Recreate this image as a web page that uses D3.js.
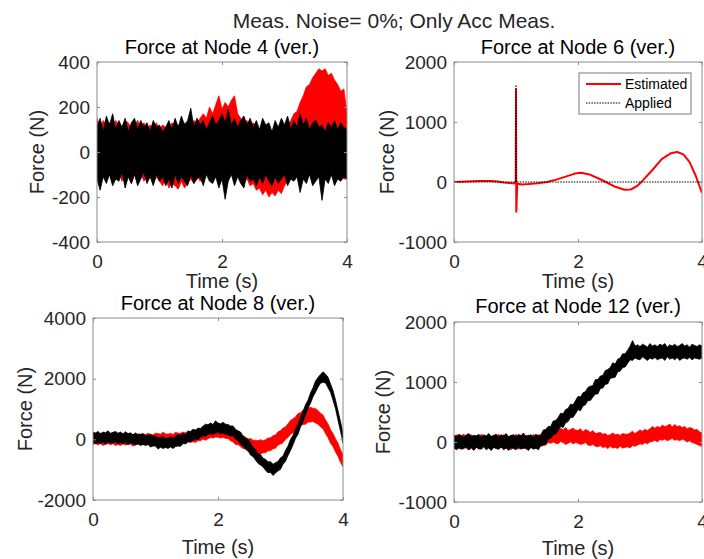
<!DOCTYPE html>
<html>
<head>
<meta charset="utf-8">
<script src="https://cdn.jsdelivr.net/npm/d3@7"></script>
<style>
  body { margin: 0; background: #fff; }
  svg { display: block; font-family: "Liberation Sans", Arial, sans-serif; }
</style>
</head>
<body>
<svg id="chart" width="704" height="559"></svg>
<script>
// chart data
const mainTitle = "Meas. Noise= 0%; Only Acc Meas.";
const legendLabels = ["Estimated", "Applied"];
const timeTicks = [0, 2, 4];
const timeDomain = [0, 4];

const node4Ticks = [-400, -200, 0, 200, 400];
const node6Ticks = [-1000, 0, 1000, 2000];
const node8Ticks = [-2000, 0, 2000, 4000];
const node12Ticks = [-1000, 0, 1000, 2000];

// noisy records are kept as upper / lower edges of the band,
// sampled evenly over 0..4 s

// node 4: 81 samples (every 0.05 s)
const node4EstimatedUpper = [
  150, 110, 140, 120, 130, 100, 140, 120, 110, 140,
  130, 100, 120, 140, 110, 130, 100, 120, 110, 130,
  100, 120, 110, 100, 130, 110, 120, 100, 130, 110,
  120, 140, 130, 150, 170, 150, 200, 170, 210, 250,
  190, 220, 200, 230, 250, 170, 150, 130, 140, 120,
  130, 110, 90, 100, 80, 90, 70, 90, 80, 100,
  110, 120, 140, 170, 180, 220, 250, 290, 300, 330,
  350, 370, 360, 370, 340, 350, 320, 300, 270, 280,
  170
];
const node4EstimatedLower = [
  -100, -130, -90, -120, -100, -140, -110, -90, -130, -100,
  -110, -140, -100, -120, -90, -130, -110, -100, -140, -110,
  -130, -150, -120, -160, -140, -150, -165, -130, -160, -140,
  -120, -140, -100, -130, -110, -90, -120, -80, -100, -70,
  -90, -60, -100, -70, -90, -110, -100, -130, -120, -150,
  -140, -170, -160, -190, -170, -200, -180, -195, -170, -185,
  -150, -130, -110, -90, -80, -60, -50, -40, -30, -20,
  -20, -10, -20, -30, -40, -50, -60, -80, -100, -120,
  -120
];
const node4AppliedUpper = [
  110, 150, 90, 160, 120, 170, 100, 140, 110, 150,
  90, 130, 150, 100, 140, 110, 130, 90, 140, 110,
  120, 90, 110, 140, 100, 150, 110, 160, 120, 140,
  195, 110, 150, 120, 140, 100, 130, 160, 120, 140,
  170, 130, 190, 120, 150, 110, 140, 160, 120, 150,
  110, 140, 100, 150, 120, 130, 90, 140, 110, 150,
  120, 160, 100, 140, 110, 170, 120, 150, 100, 130,
  140, 110, 120, 90, 130, 110, 140, 100, 130, 110,
  100
];
const node4AppliedLower = [
  -120, -170, -110, -140, -100, -150, -120, -130, -90, -160,
  -110, -140, -100, -150, -120, -90, -140, -110, -150, -100,
  -130, -110, -150, -120, -160, -100, -140, -110, -130, -150,
  -100, -140, -120, -110, -150, -100, -130, -140, -110, -160,
  -120, -210, -130, -100, -150, -110, -140, -160, -100, -130,
  -120, -150, -110, -140, -100, -130, -150, -110, -140, -120,
  -100, -150, -120, -130, -110, -180, -120, -140, -100, -150,
  -130, -110, -215, -120, -140, -100, -150, -120, -130, -110,
  -120
];

// node 6: smooth estimate with the impulse at 1 s
const node6Time = [0, 0.2, 0.4, 0.6, 0.7, 0.8, 0.95, 0.995, 1.0, 1.005, 1.02, 1.1, 1.2, 1.35, 1.5, 1.65,
  1.8, 1.95, 2.05, 2.2, 2.35, 2.45, 2.6, 2.75, 2.85, 2.95, 3.05, 3.2, 3.35, 3.5, 3.6, 3.7, 3.8, 3.9, 4.0];
const node6Estimated = [0, 10, 15, 15, 10, -10, -20, -20, 1550, -495, -30, -40, -35, -20, 0, 40,
  90, 140, 155, 120, 50, 0, -80, -130, -125, -70, 30, 200, 380, 480, 500, 460, 330, 100, -180];
const node6AppliedTime = [0, 0.995, 1.0, 1.005, 4.0];
const node6Applied = [0, 0, 1617, 0, 0];

// node 8: 101 samples (every 0.04 s)
const node8EstimatedUpper = [
  160, 200, 160, 200, 140, 200, 170, 150, 200, 160,
  130, 180, 150, 180, 150, 210, 150, 120, 180, 160,
  180, 160, 200, 160, 150, 200, 190, 170, 230, 180,
  170, 200, 160, 230, 200, 200, 240, 210, 280, 250,
  280, 260, 340, 310, 360, 360, 430, 410, 450, 490,
  460, 440, 470, 420, 410, 330, 310, 240, 220, 150,
  130, 70, 10, 30, -30, -30, -50, -10, -50, -10,
  40, 50, 120, 140, 250, 280, 370, 410, 510, 620,
  680, 740, 850, 880, 960, 1020, 1020, 1060, 1020, 1010,
  950, 860, 800, 640, 510, 320, 190, 20, -130, -340,
  -520
];
const node8EstimatedLower = [
  -170, -140, -180, -140, -200, -170, -140, -180, -140, -200,
  -170, -200, -150, -190, -160, -160, -220, -190, -150, -180,
  -150, -190, -160, -140, -180, -160, -130, -190, -140, -120,
  -160, -140, -180, -120, -160, -130, -90, -140, -90, -100,
  -80, -100, -40, -50, 10, -30, 20, 60, 40, 80,
  70, 40, 70, 30, 30, -50, -80, -170, -170, -240,
  -300, -320, -400, -400, -440, -480, -460, -480, -440, -440,
  -380, -380, -310, -290, -190, -150, -110, 0, 60, 170,
  210, 310, 350, 450, 490, 500, 570, 570, 590, 540,
  500, 410, 350, 190, 60, -130, -240, -420, -560, -760,
  -900
];
const node8AppliedUpper = [
  230, 210, 260, 180, 240, 220, 280, 200, 230, 260,
  200, 240, 180, 250, 190, 210, 150, 210, 150, 170,
  180, 120, 130, 170, 100, 110, 40, 70, 90, 30,
  40, 80, 40, 100, 160, 130, 180, 170, 260, 260,
  330, 310, 370, 360, 430, 500, 480, 540, 490, 610,
  540, 510, 560, 500, 490, 440, 440, 330, 280, 240,
  100, 40, 0, -120, -260, -340, -470, -500, -620, -660,
  -740, -740, -820, -770, -730, -610, -550, -360, -220, 0,
  130, 340, 500, 750, 920, 1140, 1290, 1530, 1700, 1920,
  2040, 2140, 2230, 2150, 2050, 1830, 1610, 1300, 940, 590,
  190
];
const node8AppliedLower = [
  -100, -140, -110, -140, -90, -150, -100, -120, -130, -80,
  -150, -110, -140, -110, -180, -110, -150, -180, -150, -200,
  -170, -200, -170, -250, -220, -220, -320, -260, -300, -270,
  -300, -250, -300, -240, -220, -230, -140, -150, -70, -80,
  -40, 10, -10, 60, 120, 100, 170, 180, 160, 200,
  230, 180, 210, 160, 150, 110, 110, 10, -40, -160,
  -210, -320, -370, -520, -570, -680, -790, -850, -910, -1020,
  -1100, -1090, -1190, -1110, -1040, -990, -820, -720, -530, -370,
  -180, 30, 170, 410, 580, 800, 1020, 1190, 1400, 1550,
  1720, 1850, 1880, 1860, 1700, 1550, 1290, 1010, 630, 270,
  -120
];

// node 12: 101 samples (every 0.04 s)
const node12EstimatedUpper = [
  90, 120, 80, 110, 130, 70, 100, 120, 90, 110,
  80, 130, 100, 70, 120, 90, 110, 80, 130, 100,
  120, 90, 70, 110, 100, 130, 80, 120, 90, 110,
  100, 70, 130, 90, 120, 120, 180, 170, 220, 240,
  210, 220, 190, 230, 200, 240, 190, 210, 230, 200,
  190, 220, 170, 210, 190, 160, 190, 140, 150, 160,
  130, 140, 110, 120, 150, 120, 130, 110, 140, 130,
  130, 150, 180, 140, 170, 200, 180, 210, 190, 220,
  260, 230, 260, 240, 280, 260, 270, 300, 250, 290,
  260, 270, 240, 260, 220, 240, 230, 200, 210, 170,
  150
];
const node12EstimatedLower = [
  -100, -80, -120, -90, -70, -110, -130, -90, -100, -80,
  -120, -100, -70, -110, -90, -130, -80, -100, -120, -90,
  -110, -70, -100, -130, -90, -80, -120, -100, -110, -90,
  -130, -80, -100, -110, -90, -70, -60, -50, -10, -20,
  0, -20, -30, 10, -10, -40, -20, 0, -30, -10,
  -20, -40, -30, -10, -50, -60, -40, -70, -80, -60,
  -90, -80, -110, -70, -100, -90, -110, -70, -100, -90,
  -80, -100, -60, -70, -50, -30, -40, -10, -30, 0,
  10, 30, 0, 40, 30, 50, 20, 40, 60, 30,
  40, 20, 50, 30, 0, 20, -10, -20, -40, -60,
  -70
];
const node12AppliedUpper = [
  110, 90, 130, 100, 80, 120, 140, 90, 110, 100,
  130, 80, 120, 100, 140, 90, 110, 130, 80, 120,
  100, 140, 90, 110, 120, 80, 130, 100, 150, 90,
  110, 120, 80, 130, 100, 110, 200, 210, 260, 260,
  350, 360, 410, 480, 470, 540, 560, 630, 620, 690,
  760, 750, 820, 840, 910, 930, 940, 1040, 1040, 1100,
  1110, 1190, 1210, 1240, 1320, 1300, 1380, 1400, 1470, 1470,
  1530, 1600, 1690, 1600, 1620, 1590, 1630, 1610, 1580, 1640,
  1600, 1620, 1590, 1630, 1610, 1640, 1580, 1620, 1600, 1630,
  1590, 1610, 1640, 1600, 1620, 1580, 1630, 1610, 1590, 1620,
  1600
];
const node12AppliedLower = [
  -100, -130, -90, -120, -110, -80, -130, -100, -140, -90,
  -110, -120, -80, -130, -100, -140, -90, -110, -120, -80,
  -130, -100, -140, -90, -110, -130, -80, -120, -100, -110,
  -140, -90, -120, -100, -130, -60, -50, -40, 50, 60,
  120, 130, 190, 260, 240, 320, 340, 410, 410, 470,
  540, 520, 600, 620, 690, 690, 750, 800, 800, 890,
  900, 960, 970, 1060, 1070, 1080, 1170, 1180, 1240, 1250,
  1310, 1370, 1360, 1400, 1380, 1370, 1420, 1390, 1360, 1400,
  1380, 1410, 1370, 1390, 1400, 1360, 1420, 1380, 1400, 1370,
  1410, 1360, 1390, 1400, 1380, 1410, 1370, 1400, 1390, 1380,
  1400
];

// band samples are equally spaced over the time axis
const band = (upper, lower) =>
  upper.map((v, i) => ({
    t: (timeDomain[1] * i) / (upper.length - 1),
    hi: v,
    lo: lower[i],
  }));

const ink = "#262626";
const boxColor = "#8c8c8c";

const panels = [
  { title: "Force at Node 4 (ver.)", left: 97, right: 347, top: 62, bottom: 242,
    yDomain: [-400, 400], yTicks: node4Ticks,
    est: band(node4EstimatedUpper, node4EstimatedLower),
    app: band(node4AppliedUpper, node4AppliedLower),
    titleY: 54, xLabelY: 288, yLabelX: 44 },
  { title: "Force at Node 6 (ver.)", left: 454, right: 702, top: 62, bottom: 242,
    yDomain: [-1000, 2000], yTicks: node6Ticks,
    estLine: d3.zip(node6Time, node6Estimated),
    appLine: d3.zip(node6AppliedTime, node6Applied),
    titleY: 54, xLabelY: 288, yLabelX: 394, legend: true },
  { title: "Force at Node 8 (ver.)", left: 93, right: 343, top: 318, bottom: 500,
    yDomain: [-2000, 4000], yTicks: node8Ticks,
    est: band(node8EstimatedUpper, node8EstimatedLower),
    app: band(node8AppliedUpper, node8AppliedLower),
    titleY: 310, xLabelY: 554, yLabelX: 32 },
  { title: "Force at Node 12 (ver.)", left: 454, right: 702, top: 322, bottom: 502,
    yDomain: [-1000, 2000], yTicks: node12Ticks,
    est: band(node12EstimatedUpper, node12EstimatedLower),
    app: band(node12AppliedUpper, node12AppliedLower),
    titleY: 313, xLabelY: 555, yLabelX: 390 },
];

const svg = d3.select("#chart");

svg.append("text")
  .attr("x", 394)
  .attr("y", 28)
  .attr("text-anchor", "middle")
  .attr("font-size", 21)
  .attr("fill", ink)
  .text(mainTitle);

const drawPanel = (p, idx) => {
  const x = d3.scaleLinear().domain(timeDomain).range([p.left, p.right]);
  const y = d3.scaleLinear().domain(p.yDomain).range([p.bottom, p.top]);
  const line = d3.line().x((d) => x(d[0])).y((d) => y(d[1]));
  const area = d3.area().x((d) => x(d.t)).y0((d) => y(d.lo)).y1((d) => y(d.hi));

  svg.append("clipPath")
    .attr("id", `clip${idx}`)
    .append("rect")
    .attr("x", p.left)
    .attr("y", p.top)
    .attr("width", p.right - p.left)
    .attr("height", p.bottom - p.top);

  const plot = svg.append("g").attr("clip-path", `url(#clip${idx})`);

  // estimated first, applied on top
  if (p.est) {
    [[p.est, "#ff0000"], [p.app, "#000"]].forEach(([data, color]) => {
      plot.append("path")
        .datum(data)
        .attr("d", area)
        .attr("fill", color)
        .attr("stroke", color)
        .attr("stroke-width", 0.8)
        .attr("stroke-linejoin", "round");
    });
  } else {
    plot.append("path")
      .datum(p.estLine)
      .attr("d", line)
      .attr("fill", "none")
      .attr("stroke", "#ff0000")
      .attr("stroke-width", 2)
      .attr("stroke-linejoin", "round");
    plot.append("path")
      .datum(p.appLine)
      .attr("d", line)
      .attr("fill", "none")
      .attr("stroke", "#000")
      .attr("stroke-width", 1.2)
      .attr("stroke-dasharray", "1.5,1.2")
      .attr("stroke-linejoin", "round");
  }

  // box and inward ticks on all four sides
  svg.append("rect")
    .attr("x", p.left)
    .attr("y", p.top)
    .attr("width", p.right - p.left)
    .attr("height", p.bottom - p.top)
    .attr("fill", "none")
    .attr("stroke", boxColor);

  const plain = (d) => `${d}`;
  const axes = [
    [d3.axisBottom(x).tickValues(timeTicks).tickFormat(plain).tickPadding(13), `translate(0,${p.bottom})`],
    [d3.axisTop(x).tickValues(timeTicks).tickFormat(""), `translate(0,${p.top})`],
    [d3.axisLeft(y).tickValues(p.yTicks).tickFormat(plain).tickPadding(7), `translate(${p.left},0)`],
    [d3.axisRight(y).tickValues(p.yTicks).tickFormat(""), `translate(${p.right},0)`],
  ];
  axes.forEach(([axis, transform]) => {
    const g = svg.append("g")
      .attr("transform", transform)
      .call(axis.tickSize(-3).tickSizeOuter(0));
    g.select(".domain").remove();
    g.selectAll("line").attr("stroke", boxColor);
    g.selectAll("text")
      .attr("fill", ink)
      .attr("font-size", 19)
      .attr("font-family", "Liberation Sans, Arial, sans-serif");
  });

  svg.append("text")
    .attr("x", (p.left + p.right) / 2)
    .attr("y", p.titleY)
    .attr("text-anchor", "middle")
    .attr("font-size", 20)
    .attr("fill", "#000")
    .text(p.title);

  svg.append("text")
    .attr("x", (p.left + p.right) / 2)
    .attr("y", p.xLabelY)
    .attr("text-anchor", "middle")
    .attr("font-size", 20)
    .attr("fill", ink)
    .text("Time (s)");

  svg.append("text")
    .attr("transform", `translate(${p.yLabelX},${(p.top + p.bottom) / 2}) rotate(-90)`)
    .attr("text-anchor", "middle")
    .attr("font-size", 20)
    .attr("fill", ink)
    .text("Force (N)");

  if (p.legend) {
    const lg = svg.append("g").attr("transform", "translate(579,73)");
    lg.append("rect")
      .attr("width", 112)
      .attr("height", 41)
      .attr("fill", "#fff")
      .attr("stroke", "#7a7a7a");
    legendLabels.forEach((label, i) => {
      const ly = 11 + i * 19;
      lg.append("line")
        .attr("x1", 7)
        .attr("x2", 42)
        .attr("y1", ly)
        .attr("y2", ly)
        .attr("stroke", i === 0 ? "#ff0000" : "#000")
        .attr("stroke-width", i === 0 ? 2 : 1.2)
        .attr("stroke-dasharray", i === 0 ? null : "1.5,1.2");
      lg.append("text")
        .attr("x", 46)
        .attr("y", ly + 5)
        .attr("font-size", 14)
        .attr("fill", "#000")
        .text(label);
    });
  }
};

panels.forEach(drawPanel);
</script>
</body>
</html>
